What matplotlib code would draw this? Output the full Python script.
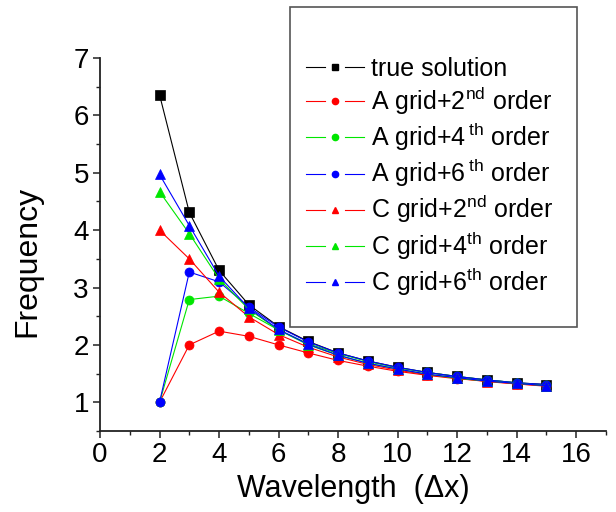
import matplotlib
matplotlib.use("Agg")
import matplotlib.pyplot as plt
from matplotlib.lines import Line2D
from matplotlib.legend_handler import HandlerBase
from matplotlib.patches import Rectangle
from matplotlib.ticker import MultipleLocator

plt.rcParams['font.family'] = ['Liberation Sans', 'DejaVu Sans']
plt.rcParams['mathtext.fontset'] = 'custom'
plt.rcParams['mathtext.rm'] = 'Liberation Sans'
plt.rcParams['mathtext.it'] = 'Liberation Sans:italic'

# Wavelength in grid spacings
wavelength = [2, 3, 4, 5, 6, 7, 8, 9, 10, 11, 12, 13, 14, 15]

true_solution = [6.36, 4.31, 3.30, 2.70, 2.32, 2.06, 1.86, 1.72, 1.61, 1.52, 1.45, 1.39, 1.34, 1.31]
a_grid_2nd = [1.00, 2.00, 2.24, 2.15, 2.00, 1.86, 1.73, 1.63, 1.54, 1.47, 1.41, 1.37, 1.32, 1.29]
a_grid_4th = [1.00, 2.79, 2.85, 2.55, 2.26, 2.02, 1.85, 1.71, 1.60, 1.52, 1.45, 1.39, 1.34, 1.30]
a_grid_6th = [1.00, 3.27, 3.10, 2.66, 2.31, 2.05, 1.86, 1.72, 1.61, 1.52, 1.45, 1.39, 1.34, 1.31]
c_grid_2nd = [4.00, 3.50, 2.92, 2.49, 2.18, 1.96, 1.79, 1.66, 1.56, 1.48, 1.42, 1.36, 1.32, 1.28]
c_grid_4th = [4.67, 3.94, 3.15, 2.62, 2.26, 2.00, 1.82, 1.68, 1.58, 1.49, 1.42, 1.37, 1.33, 1.29]
c_grid_6th = [4.97, 4.08, 3.20, 2.64, 2.27, 2.01, 1.82, 1.68, 1.58, 1.49, 1.43, 1.37, 1.33, 1.29]

labels = [
    "true solution",
    r"A grid+2$^{\mathrm{nd}}$ order",
    r"A grid+4$\,^{\mathrm{th}}$ order",
    r"A grid+6$\,^{\mathrm{th}}$ order",
    r"C grid+2$^{\mathrm{nd}}$ order",
    r"C grid+4$^{\mathrm{th}}$ order",
    r"C grid+6$^{\mathrm{th}}$ order",
]

RED, GREEN, BLUE = '#ff0000', '#00e600', '#0000ff'
series = [
    (true_solution, 'black', 's', 6.5),
    (a_grid_2nd, RED, 'o', 6.5),
    (a_grid_4th, GREEN, 'o', 6.5),
    (a_grid_6th, BLUE, 'o', 6.5),
    (c_grid_2nd, RED, '^', 7.5),
    (c_grid_4th, GREEN, '^', 7.5),
    (c_grid_6th, BLUE, '^', 7.5),
]


class SplitLineHandler(HandlerBase):
    """Legend key drawn as a line broken around a small marker."""

    def create_artists(self, legend, orig, xdescent, ydescent, width, height,
                       fontsize, trans):
        y = height / 2 - ydescent
        x0 = -xdescent
        x1 = x0 + width
        xm = (x0 + x1) / 2
        gap = width * 0.17
        color = orig.get_color()
        lw = orig.get_linewidth()
        left = Line2D([x0, xm - gap], [y, y], color=color, lw=lw)
        right = Line2D([xm + gap, x1], [y, y], color=color, lw=lw)
        mk = Line2D([xm], [y], marker=orig.get_marker(), color=color,
                    markersize=4.5, linestyle='None')
        for a in (left, right, mk):
            a.set_transform(trans)
        return [left, right, mk]


fig = plt.figure(figsize=(6.16, 5.12), dpi=100)
ax = fig.add_axes([100 / 616, (512 - 431) / 512, (606 - 100) / 616, (431 - 58) / 512])

handles = []
for (vals, color, marker, ms), lab in zip(series, labels):
    h, = ax.plot(wavelength, vals, color=color, lw=0.8, marker=marker,
                 markersize=ms, markeredgecolor=color, markeredgewidth=0.5,
                 label=lab)
    handles.append(h)

ax.set_xlim(0, 17)
ax.set_ylim(0.5, 7)
ax.set_xticks(range(0, 17, 2))
ax.xaxis.set_minor_locator(MultipleLocator(1))
ax.set_yticks([1, 2, 3, 4, 5, 6, 7])
ax.yaxis.set_minor_locator(MultipleLocator(0.5))

for side in ('top', 'right'):
    ax.spines[side].set_visible(False)
for side in ('left', 'bottom'):
    ax.spines[side].set_linewidth(1.3)
    ax.spines[side].set_color('#222222')

ax.tick_params(which='major', direction='out', length=5, width=1.1,
               labelsize=20, pad=3, colors='#222222', labelcolor='black')
ax.tick_params(which='minor', direction='out', length=3, width=1.0,
               colors='#222222')

ax.set_xlabel("Wavelength  (\u0394x)", fontsize=22, labelpad=4)
ax.set_ylabel("Frequency", fontsize=23)
ax.yaxis.set_label_coords(-0.113, 0.455)

# Legend frame and entries
fig.patches.append(Rectangle((290 / 616, 1 - 327 / 512), (577 - 290) / 616,
                             (327 - 7) / 512, transform=fig.transFigure,
                             facecolor='white', edgecolor='#555555', lw=1.2,
                             zorder=5))
leg = fig.legend(handles=handles, loc='upper left',
                 bbox_to_anchor=(306 / 616, 1 - 57 / 512),
                 frameon=False, fontsize=18, borderpad=0, borderaxespad=0,
                 handlelength=2.3, handletextpad=0.3, labelspacing=0.16,
                 handler_map={Line2D: SplitLineHandler()})
leg.set_zorder(6)

fig.savefig("out.png", dpi=100)
